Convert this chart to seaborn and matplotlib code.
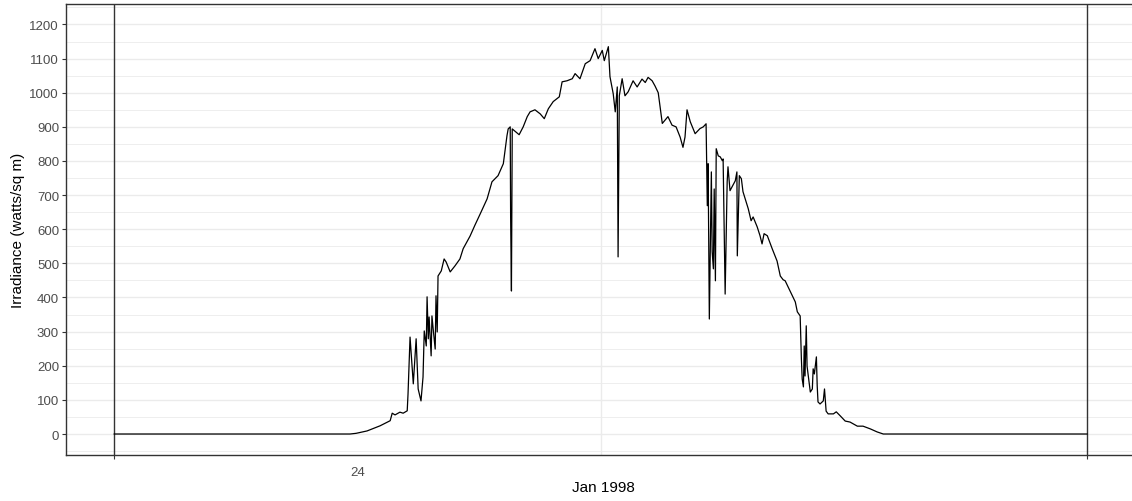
import matplotlib
matplotlib.use("Agg")
import matplotlib.pyplot as plt
import matplotlib.transforms as mtransforms
import seaborn as sns
import pandas as pd

# Solar irradiance over one day (hours after midnight, 24 Jan 1998)
hours = [
    0.00, 5.82, 5.97, 6.24, 6.56, 6.81, 6.86, 6.93, 7.05, 7.13, 7.23, 7.25,
    7.30, 7.35, 7.38, 7.45, 7.50, 7.57, 7.62, 7.65, 7.70, 7.72, 7.75, 7.77,
    7.82, 7.84, 7.87, 7.92, 7.94, 7.97, 7.99, 8.07, 8.14, 8.19, 8.29, 8.41,
    8.53, 8.61, 8.78, 8.90, 9.03, 9.20, 9.32, 9.47, 9.60, 9.69, 9.72, 9.77,
    9.78, 9.80, 9.82, 9.99, 10.09, 10.19, 10.26, 10.38, 10.51, 10.61, 10.71,
    10.83, 10.98, 11.05, 11.17, 11.30, 11.37, 11.49, 11.62, 11.74, 11.86,
    11.94, 12.04, 12.09, 12.19, 12.23, 12.31, 12.36, 12.41, 12.43, 12.46,
    12.53, 12.60, 12.68, 12.80, 12.90, 13.02, 13.10, 13.17, 13.27, 13.34,
    13.42, 13.52, 13.59, 13.66, 13.76, 13.86, 13.96, 14.03, 14.08, 14.13,
    14.21, 14.33, 14.45, 14.53, 14.60, 14.63, 14.65, 14.68, 14.73, 14.75,
    14.78, 14.80, 14.83, 14.85, 14.90, 14.95, 15.00, 15.02, 15.07, 15.12,
    15.14, 15.19, 15.24, 15.32, 15.36, 15.37, 15.42, 15.47, 15.51, 15.64,
    15.71, 15.76, 15.86, 15.93, 15.98, 16.03, 16.11, 16.23, 16.35, 16.43,
    16.50, 16.55, 16.67, 16.80, 16.85, 16.92, 16.95, 16.97, 17.00, 17.02,
    17.04, 17.07, 17.09, 17.12, 17.17, 17.22, 17.24, 17.27, 17.32, 17.34,
    17.36, 17.41, 17.49, 17.52, 17.56, 17.61, 17.74, 17.81, 17.91, 18.03,
    18.15, 18.33, 18.47, 18.65, 18.82, 18.97, 24.00,
]
irradiance = [
    0, 0, 2, 9, 24, 39, 61, 56, 64, 61, 68, 117,
    284, 196, 147, 279, 132, 97, 167, 302, 258, 402, 279, 343,
    229, 346, 308, 249, 405, 299, 463, 478, 513, 504, 475, 493,
    513, 543, 580, 612, 645, 689, 739, 757, 792, 874, 894, 900,
    640, 419, 894, 877, 900, 930, 944, 950, 938, 924, 953,
    974, 988, 1032, 1035, 1041, 1056, 1041, 1085, 1094, 1129,
    1100, 1124, 1094, 1135, 1047, 997, 944, 1017, 519, 991,
    1041, 991, 1003, 1035, 1017, 1040, 1030, 1045, 1035, 1020,
    1000, 910, 920, 930, 905, 900, 870, 840, 870, 950,
    915, 880, 895, 900, 909, 669, 792, 337, 768, 534,
    484, 718, 449, 836, 815, 812, 801, 806, 410, 739,
    783, 713, 724, 742, 768, 522, 757, 748, 710, 660,
    625, 636, 607, 581, 557, 587, 581, 543, 507, 463,
    452, 449, 419, 387, 358, 346, 220, 161, 138, 258,
    170, 317, 199, 170, 123, 132, 191, 176, 226, 141,
    94, 88, 97, 132, 67, 59, 59, 65, 53, 38,
    35, 23, 23, 15, 6, 0, 0,
]
day_bounds = [0, 24]
y_ticks = list(range(0, 1201, 100))

df = pd.DataFrame({"hour": hours, "irradiance": irradiance})

sns.set_theme(style="white")
plt.rcParams["font.family"] = ["Liberation Sans", "DejaVu Sans"]

fig = plt.figure(figsize=(11.32, 5.02), dpi=100)
ax = fig.add_axes([66 / 1132, 1 - 456 / 502, (1140 - 66) / 1132, (456 - 5) / 502])

grid_col = "#EBEBEB"
# horizontal major/minor grid
for v in range(-50, 1251, 50):
    ax.axhline(v, color=grid_col, lw=1.0 if v % 100 == 0 else 0.6, zorder=0)
ax.axvline(12, color=grid_col, lw=1.0, zorder=0)

sns.lineplot(data=df, x="hour", y="irradiance", color="black", lw=0.9,
             estimator=None, sort=False, ax=ax, zorder=3)

for b in day_bounds:
    ax.axvline(b, color="#333333", lw=1.0, zorder=2)

ax.set_xlim(-1.184, 25.30)
ax.set_ylim(-61.5, 1260)

ax.set_xticks(day_bounds)
ax.set_xticklabels(["", ""])
ax.set_yticks(y_ticks)
ax.set_yticklabels([str(v) for v in y_ticks])
ax.tick_params(axis="both", which="major", direction="out", length=3, width=0.8,
               color="#333333", labelsize=9.5, labelcolor="#4D4D4D", pad=2,
               bottom=True, left=True)

for s in ax.spines.values():
    s.set_color("#333333")
    s.set_linewidth(1.0)

trans = mtransforms.blended_transform_factory(ax.transData, ax.transAxes)
ax.text(6, -0.038, "24", transform=trans, ha="center", va="center",
        fontsize=9.5, color="#4D4D4D")

ax.set_xlabel("Jan 1998", fontsize=11, color="black", labelpad=13)
ax.set_ylabel("Irradiance (watts/sq m)", fontsize=11, color="black", labelpad=3)

fig.savefig("out.png", dpi=100)
